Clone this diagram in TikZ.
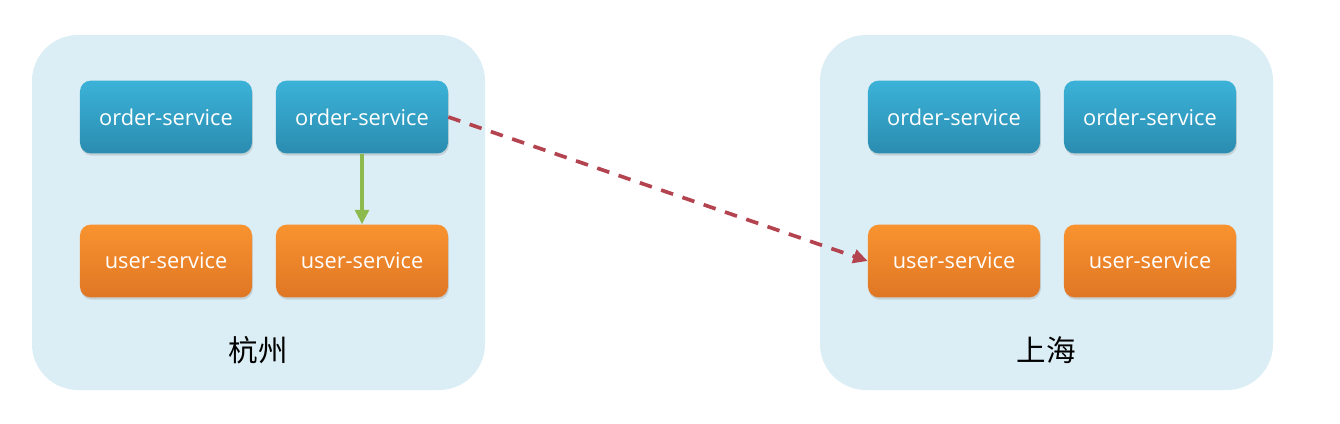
\documentclass[tikz,border=0pt]{standalone}
\usepackage{fontspec}
\setsansfont{Open Sans}
\newfontfamily\cjk{Noto Sans CJK SC}
\usepackage{tikz}
\usetikzlibrary{arrows.meta,positioning,shadows}

\definecolor{regionbg}{HTML}{DCEEF5}
\definecolor{ordertop}{HTML}{3CB2D8}
\definecolor{orderbot}{HTML}{2A8CB0}
\definecolor{usertop}{HTML}{F9932F}
\definecolor{userbot}{HTML}{DF7625}
\definecolor{callgreen}{HTML}{8DBA4C}
\definecolor{callred}{HTML}{B3434E}

\begin{document}
\begin{tikzpicture}[x=0.025cm, y=-0.025cm,
    region/.style={fill=regionbg, rounded corners=1.15cm, draw=none},
    svc/.style={rounded corners=0.27cm, minimum width=4.3cm, minimum height=1.82cm,
      font=\sffamily\fontsize{15.5}{18}\selectfont, text=white, align=center,
      drop shadow={opacity=0.25, shadow xshift=0.6pt, shadow yshift=-1.6pt}},
    order/.style={svc, top color=ordertop, bottom color=orderbot},
    user/.style={svc, top color=usertop, bottom color=userbot},
    city/.style={font=\cjk\fontsize{21}{24}\selectfont, text=black},
    arrow/.style={-{Triangle[length=3.6mm, width=3.4mm]}, line width=2.6pt},
  ]
    \useasboundingbox (0,0) rectangle (1340,423);
    \fill[white] (0,0) rectangle (1340,423);

    % zones
    \path[region] (32,35) rectangle (485,390);
    \path[region] (820,35) rectangle (1273,390);
    \node[city] (hz) at (258,350) {杭州};
    \node[city] (sh) at (1046,350) {上海};

    % Hangzhou
    \node[order] (hzorder1) at (166,117) {order-service};
    \node[order] (hzorder2) at (362,117) {order-service};
    \node[user] (hzuser1) at (166,261) {user-service};
    \node[user] (hzuser2) at (362,261) {user-service};

    % Shanghai
    \node[order] (shorder1) at (954,117) {order-service};
    \node[order] (shorder2) at (1150,117) {order-service};
    \node[user] (shuser1) at (954,261) {user-service};
    \node[user] (shuser2) at (1150,261) {user-service};

    \draw[arrow, callgreen] (hzorder2) -- (hzuser2);
    \draw[arrow, callred, dash pattern=on 9pt off 7pt] (hzorder2.east) -- (shuser1.west);
  \end{tikzpicture}
\end{document}
